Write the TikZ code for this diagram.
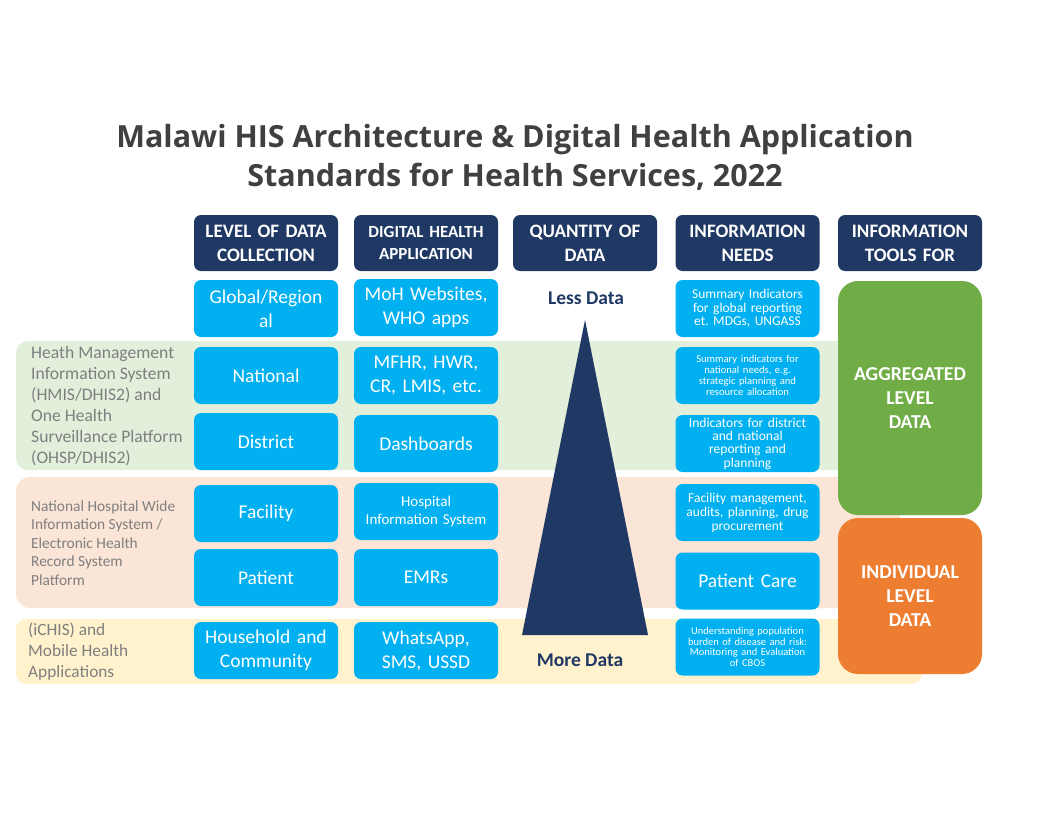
\documentclass[tikz,border=0pt]{standalone}
\usepackage{fontspec}
\setmainfont{Carlito}
\newfontfamily\titlefont{Open Sans}
\frenchspacing
\definecolor{navy}{HTML}{203864}
\definecolor{skyblue}{HTML}{00B0F0}
\definecolor{bandgreen}{HTML}{E2EFDA}
\definecolor{bandpeach}{HTML}{FBE5D6}
\definecolor{bandyellow}{HTML}{FFF2CC}
\definecolor{aggrgreen}{HTML}{70AD47}
\definecolor{indorange}{HTML}{ED7D31}
\definecolor{sidegray}{HTML}{7F7F7F}
\definecolor{titlegray}{HTML}{404040}
\newcommand{\fs}[2]{\fontsize{#1}{#2}\selectfont}
\tikzset{
  head/.style={fill=navy, rounded corners=7pt, text=white, align=center,
    minimum width=144pt, minimum height=56pt, text width=140pt, inner sep=2pt,
    font=\bfseries\fs{19}{24}},
  cell/.style={fill=skyblue, rounded corners=7pt, text=white, align=center,
    minimum width=144pt, minimum height=57pt, text width=140pt, inner sep=2pt,
    font=\fs{19.5}{24}},
  small/.style={font=\fs{13.5}{13.5}},
  tiny/.style={font=\fs{10.6}{11.2}},
  side/.style={text=sidegray, align=left, anchor=west, inner sep=0pt},
  tool/.style={rounded corners=20pt, text=white, align=center,
    minimum width=144pt, font=\bfseries\fs{19.7}{24}}
}
\begin{document}
\begin{tikzpicture}[x=1pt,y=-1pt]
\useasboundingbox (0,0) rectangle (1056,816);
% background bands
\fill[bandgreen, rounded corners=12pt] (16,341) rectangle (900,470);
\fill[bandpeach, rounded corners=14pt] (16,477) rectangle (900,608);
\fill[bandyellow, rounded corners=10pt] (16,619) rectangle (922,684);
% title
\node[font=\titlefont\bfseries\fs{30.5}{39}, text=titlegray, align=center] (title) at (515,157)
  {Malawi HIS Architecture \& Digital Health Application\\Standards for Health Services, 2022};
% column heads
\node[head] (hlevel) at (266,243) {LEVEL OF DATA\\COLLECTION};
\node[head, font=\bfseries\fs{17}{22}] (happ) at (426,243) {DIGITAL HEALTH\\APPLICATION};
\node[head] (hqty) at (585,243) {QUANTITY OF\\DATA};
\node[head] (hneed) at (747.5,243) {INFORMATION\\NEEDS};
\node[head] (htool) at (910,243) {INFORMATION\\TOOLS FOR};
% level of data collection
\node[cell] (global) at (266,308.5) {Global/Region\\al};
\node[cell] (national) at (266,375.5) {National};
\node[cell] (district) at (266,441.5) {District};
\node[cell] (facility) at (266,513.5) {Facility};
\node[cell] (patient) at (266,577.5) {Patient};
\node[cell] (household) at (266,650.5) {Household and\\Community};
% digital health applications
\node[cell] (moh) at (426,307.5) {MoH Websites,\\WHO apps};
\node[cell] (mfhr) at (426,375.5) {MFHR, HWR,\\CR, LMIS, etc.};
\node[cell] (dash) at (426,443.5) {Dashboards};
\node[cell, font=\fs{15}{18}] (his) at (426,511.5) {Hospital\\Information System};
\node[cell] (emr) at (426,577.5) {EMRs};
\node[cell] (whatsapp) at (426,650.5) {WhatsApp,\\SMS, USSD};
% quantity of data
\fill[navy] (585,320) -- (648,635) -- (522,635) -- cycle;
\node[font=\bfseries\fs{19.5}{22}, text=navy] (less) at (586,298) {Less Data};
\node[font=\bfseries\fs{19.5}{22}, text=navy] (more) at (580,660) {More Data};
% information needs
\node[cell, small] (needglobal) at (747.5,308.5) {Summary Indicators\\for global reporting\\et. MDGs, UNGASS};
\node[cell, tiny] (neednat) at (747.5,375.5) {Summary indicators for\\national needs, e.g.\\strategic planning and\\resource allocation};
\node[cell, small, font=\fs{13.6}{13.3}] (needdist) at (747.5,443.5) {Indicators for district\\and national\\reporting and\\planning};
\node[cell, small, font=\fs{13.5}{14}] (needfac) at (747.5,512.5) {Facility management,\\audits, planning, drug\\procurement};
\node[cell] (needpat) at (747.5,581) {Patient Care};
\node[cell, tiny, font=\fs{10.5}{10.7}] (needcom) at (747.5,647) {Understanding population\\burden of disease and risk:\\Monitoring and Evaluation\\of CBOS};
% information tools
\node[tool, fill=aggrgreen, minimum height=234pt] (aggr) at (910,398) {AGGREGATED\\LEVEL\\DATA};
\node[tool, fill=indorange, minimum height=156pt] (indiv) at (910,596) {INDIVIDUAL\\LEVEL\\DATA};
% systems on the left
\node[side, font=\fs{17.6}{21}] (hmis) at (31,406.5) {Heath Management\\Information System\\(HMIS/DHIS2) and\\One Health\\Surveillance Platform\\(OHSP/DHIS2)};
\node[side, font=\fs{15.4}{18.5}] (hwis) at (31,543) {National Hospital Wide\\Information System /\\Electronic Health\\Record System\\Platform};
\node[side, font=\fs{17.3}{21}] (ichis) at (28,652) {(iCHIS) and\\Mobile Health\\Applications};
\end{tikzpicture}
\end{document}
